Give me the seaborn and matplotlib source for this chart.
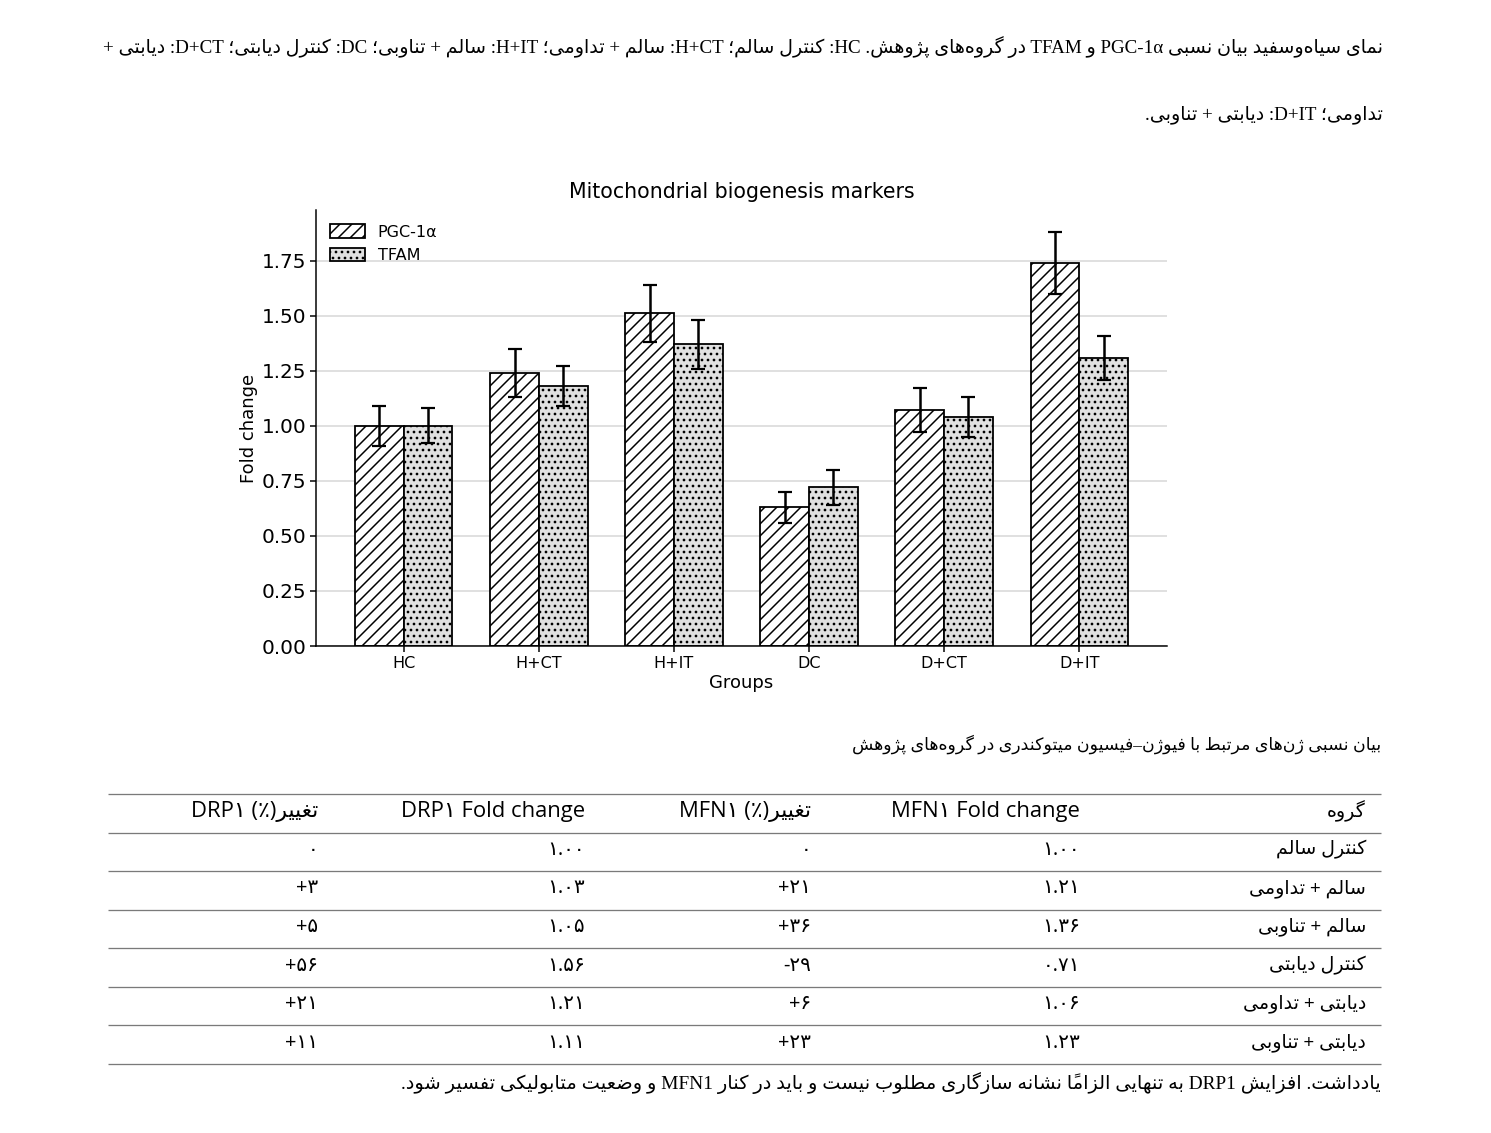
import numpy as np
import pandas as pd
import seaborn as sns
import matplotlib
matplotlib.use("Agg")
import matplotlib.pyplot as plt

# ---- chart data ----
groups = ["HC", "H+CT", "H+IT", "DC", "D+CT", "D+IT"]
markers = ["PGC-1α", "TFAM"]
pgc_mean = [1.00, 1.24, 1.51, 0.63, 1.07, 1.74]
pgc_err = [0.09, 0.11, 0.13, 0.07, 0.10, 0.14]
tfam_mean = [1.00, 1.18, 1.37, 0.72, 1.04, 1.31]
tfam_err = [0.08, 0.09, 0.11, 0.08, 0.09, 0.10]

# ---- table data ----
table_headers = ["گروه", "MFN۱ Fold change", "تغییر(٪) MFN۱", "DRP۱ Fold change", "تغییر(٪) DRP۱"]
group_names_fa = ["کنترل سالم", "سالم + تداومی", "سالم + تناوبی",
                  "کنترل دیابتی", "دیابتی + تداومی", "دیابتی + تناوبی"]
mfn1_fold = [1.00, 1.21, 1.36, 0.71, 1.06, 1.23]
mfn1_change = [0, 21, 36, -29, 6, 23]
drp1_fold = [1.00, 1.03, 1.05, 1.56, 1.21, 1.11]
drp1_change = [0, 3, 5, 56, 21, 11]

caption_lines = [
    "نمای سیاه\u200cوسفید بیان نسبی PGC-1α و TFAM در گروه\u200cهای پژوهش. HC: کنترل سالم؛ "
    "H+CT: سالم + تداومی؛ H+IT: سالم + تناوبی؛ DC: کنترل دیابتی؛ D+CT: دیابتی +",
    "تداومی؛ D+IT: دیابتی + تناوبی.",
]
table_caption = "بیان نسبی ژن\u200cهای مرتبط با فیوژن–فیسیون میتوکندری در گروه\u200cهای پژوهش"
note_text = ("یادداشت. افزایش DRP1 به تنهایی الزاماً نشانه سازگاری مطلوب نیست "
             "و باید در کنار MFN1 و وضعیت متابولیکی تفسیر شود.")


# ---- minimal Persian shaping + bidi so matplotlib can draw RTL text ----
FORMS = {'ء': (0xFE80, 1), 'آ': (0xFE81, 2), 'أ': (0xFE83, 2), 'ؤ': (0xFE85, 2),
         'إ': (0xFE87, 2), 'ئ': (0xFE89, 4), 'ا': (0xFE8D, 2), 'ب': (0xFE8F, 4),
         'ة': (0xFE93, 2), 'ت': (0xFE95, 4), 'ث': (0xFE99, 4), 'ج': (0xFE9D, 4),
         'ح': (0xFEA1, 4), 'خ': (0xFEA5, 4), 'د': (0xFEA9, 2), 'ذ': (0xFEAB, 2),
         'ر': (0xFEAD, 2), 'ز': (0xFEAF, 2), 'س': (0xFEB1, 4), 'ش': (0xFEB5, 4),
         'ص': (0xFEB9, 4), 'ض': (0xFEBD, 4), 'ط': (0xFEC1, 4), 'ظ': (0xFEC5, 4),
         'ع': (0xFEC9, 4), 'غ': (0xFECD, 4), 'ف': (0xFED1, 4), 'ق': (0xFED5, 4),
         'ك': (0xFED9, 4), 'ل': (0xFEDD, 4), 'م': (0xFEE1, 4), 'ن': (0xFEE5, 4),
         'ه': (0xFEE9, 4), 'و': (0xFEED, 2), 'ى': (0xFEEF, 2), 'ي': (0xFEF1, 4),
         'پ': (0xFB56, 4), 'چ': (0xFB7A, 4), 'ژ': (0xFB8A, 2), 'ک': (0xFB8E, 4),
         'گ': (0xFB92, 4), 'ی': (0xFBFC, 4)}
LAM_ALEF = {'آ': 0xFEF5, 'أ': 0xFEF7, 'إ': 0xFEF9, 'ا': 0xFEFB}
MIRROR = {'(': ')', ')': '(', '[': ']', ']': '[', '«': '»', '»': '«'}
FA_DIGITS = str.maketrans("0123456789", "۰۱۲۳۴۵۶۷۸۹")


def is_mark(c):
    return '\u064B' <= c <= '\u065F' or c == '\u0670'


def shape(run):
    units = []
    for c in run:
        if is_mark(c) and units:
            units[-1][1] += c
        else:
            units.append([c, ""])
    res = []
    prev_dual = False
    i = 0
    while i < len(units):
        c, m = units[i]
        nxt = units[i + 1][0] if i + 1 < len(units) else None
        if c == 'ل' and nxt in LAM_ALEF:
            res.append(chr(LAM_ALEF[nxt] + (1 if prev_dual else 0)) + m + units[i + 1][1])
            prev_dual = False
            i += 2
            continue
        if c in FORMS:
            base, k = FORMS[c]
            next_ok = k == 4 and nxt in FORMS and FORMS[nxt][1] > 1
            if k == 1:
                form = 0
            elif prev_dual and next_ok:
                form = 3
            elif prev_dual:
                form = 1
            elif next_ok:
                form = 2
            else:
                form = 0
            res.append(chr(base + form) + m)
            prev_dual = k == 4
        else:
            if c != '\u200c':
                res.append(c + m)
            prev_dual = False
        i += 1
    return res


def char_dir(c):
    if '\u06F0' <= c <= '\u06F9' or '\u0660' <= c <= '\u0669':
        return 'L'
    if '\u0600' <= c <= '\u06FF' or c == '\u200c':
        return 'R'
    if c.isalnum():
        return 'L'
    return 'N'


def fa(text):
    dirs = [char_dir(c) for c in text]
    n = len(text)
    i = 0
    while i < n:
        if dirs[i] != 'N':
            i += 1
            continue
        j = i
        while j < n and dirs[j] == 'N':
            j += 1
        before = dirs[i - 1] if i > 0 else 'R'
        after = dirs[j] if j < n else 'R'
        d = 'L' if before == after == 'L' else 'R'
        for k in range(i, j):
            dirs[k] = d
        i = j
    runs = []
    for c, d in zip(text, dirs):
        if runs and runs[-1][0] == d:
            runs[-1][1] += c
        else:
            runs.append([d, c])
    out = []
    for d, s in reversed(runs):
        if d == 'L':
            out.append(s)
        else:
            out.append("".join(MIRROR.get(c, c) for c in reversed(shape(s))))
    return "".join(out)


def fold_str(v):
    return f"{v:.2f}".translate(FA_DIGITS)


def change_str(v):
    if v == 0:
        return "0".translate(FA_DIGITS)
    sign = "+" if v > 0 else "-"
    return (sign + str(abs(v))).translate(FA_DIGITS)


# ---- figure ----
W, H = 1491, 1133
sns.set_style("ticks")
plt.rcParams.update({
    'hatch.linewidth': 1.5,
    'text.color': 'black',
    'axes.labelcolor': 'black',
    'axes.edgecolor': 'black',
    'xtick.color': 'black',
    'ytick.color': 'black',
})
SERIF_FA = ['Liberation Serif', 'DejaVu Sans']
SANS_FA = ['Open Sans', 'DejaVu Sans']

fig = plt.figure(figsize=(W / 72, H / 72), dpi=72)
fig.patch.set_facecolor("white")

bg = fig.add_axes([0, 0, 1, 1])
bg.set_xlim(0, W)
bg.set_ylim(H, 0)
bg.axis("off")

ax = fig.add_axes([316 / W, 1 - 646 / H, (1167 - 316) / W, (646 - 210) / H])

df = pd.DataFrame({
    "Group": groups * 2,
    "Marker": [markers[0]] * len(groups) + [markers[1]] * len(groups),
    "Fold change": pgc_mean + tfam_mean,
})
sns.barplot(data=df, x="Group", y="Fold change", hue="Marker", order=groups,
            hue_order=markers, palette=["white", "#e0e0e0"], saturation=1,
            edgecolor="black", linewidth=1.8, width=0.72, errorbar=None,
            legend=False, ax=ax, zorder=2)

bar_conts = list(ax.containers[:2])
for cont, hatch in zip(bar_conts, ["//", ".."]):
    for bar in cont:
        bar.set_hatch(hatch)

for cont, errs in zip(bar_conts, [pgc_err, tfam_err]):
    xs = [b.get_x() + b.get_width() / 2 for b in cont]
    ys = [b.get_height() for b in cont]
    ax.errorbar(xs, ys, yerr=errs, fmt="none", ecolor="black", elinewidth=2.5,
                capsize=7, capthick=2.2, zorder=5)

ax.set_xlim(-0.65, len(groups) - 0.35)
ax.set_ylim(0, 1.98)
ax.set_yticks(np.arange(0, 1.76, 0.25))
ax.yaxis.grid(True, color="#d6d6d6", linewidth=1.5)
ax.set_axisbelow(True)
sns.despine(ax=ax)
for sp in ["left", "bottom"]:
    ax.spines[sp].set_linewidth(1.5)
ax.tick_params(axis="y", labelsize=20, length=6, width=1.5)
ax.tick_params(axis="x", labelsize=16, length=6, width=1.5)
ax.set_xlabel("Groups", fontsize=18)
ax.set_ylabel("Fold change", fontsize=18)
ax.set_title("Mitochondrial biogenesis markers", fontsize=20.5, pad=12)
ax.legend(handles=bar_conts, labels=markers, loc="upper left", frameon=False,
          fontsize=16, handlelength=2.15, handleheight=0.9)

renderer = fig.canvas.get_renderer()


def fit_width(t, target):
    w = t.get_window_extent(renderer).width
    t.set_fontsize(t.get_fontsize() * target / w)


# captions
cap1 = bg.text(1383, 47, fa(caption_lines[0]), ha="right", va="center",
               family=SERIF_FA, fontsize=18)
fit_width(cap1, 1383 - 108)
bg.text(1383, 115, fa(caption_lines[1]), ha="right", va="center",
        family=SERIF_FA, fontsize=cap1.get_fontsize())

cap2 = bg.text(1381, 744, fa(table_caption), ha="right", va="center",
               family=SERIF_FA, fontsize=18)
fit_width(cap2, 1381 - 852)

# table
col_right = [1366, 1080, 811, 585, 318]
row_h = (1064 - 794) / 7
top = 794
n_rows = len(group_names_fa) + 1
bg.hlines([top + k * row_h for k in range(n_rows + 1)], 108, 1381,
          color="#7a7a7a", linewidth=1.3)

for x, cell in zip(col_right, table_headers):
    has_latin = any(ch.isascii() and ch.isalpha() for ch in cell)
    bg.text(x, top + 0.5 * row_h - 2, fa(cell), ha="right", va="center",
            family=SANS_FA, fontsize=22 if has_latin else 19)

for r, (g, a, b, c, d) in enumerate(zip(group_names_fa, mfn1_fold, mfn1_change,
                                        drp1_fold, drp1_change), start=1):
    yc = top + (r + 0.5) * row_h - 2
    bg.text(col_right[0], yc, fa(g), ha="right", va="center", family=SANS_FA, fontsize=19)
    for x, cell in zip(col_right[1:], [fold_str(a), change_str(b), fold_str(c), change_str(d)]):
        bg.text(x, yc, cell, ha="right", va="center", family=SANS_FA, fontsize=20)

note = bg.text(1381, 1083, fa(note_text), ha="right", va="center",
               family=SERIF_FA, fontsize=18)
fit_width(note, 1381 - 401)

fig.savefig("out.png", dpi=72, facecolor="white")
